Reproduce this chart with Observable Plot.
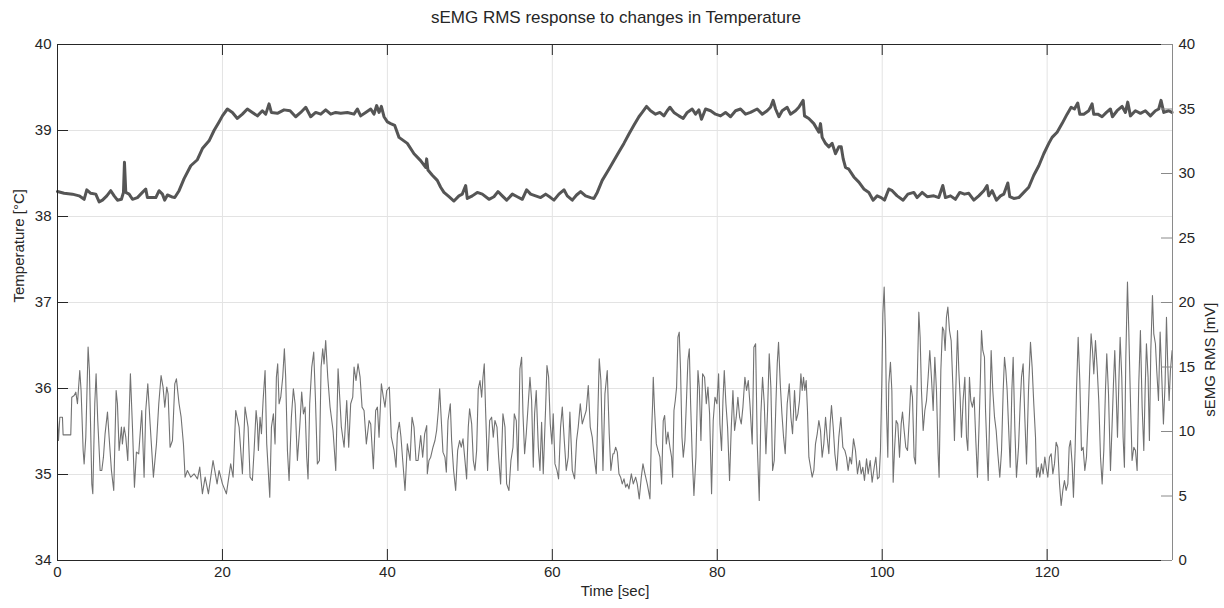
<!DOCTYPE html>
<html><head><meta charset="utf-8">
<script src="https://cdn.jsdelivr.net/npm/d3@7"></script>
<script src="https://cdn.jsdelivr.net/npm/@observablehq/plot@0.6"></script>
<style>
body{margin:0;background:#fff;font-family:"Liberation Sans",Arial,sans-serif;}
#title{height:26px;padding-top:5px;line-height:26px;font-size:17px;text-align:center;padding-left:8px;color:#262626;}
</style></head><body>
<div id="title">sEMG RMS response to changes in Temperature</div>
<div id="chart"></div>
<script>
// Temperature samples [time s, °C]
const tempSamples = [[0,38.29],[0.8,38.27],[1.81,38.26],[2.62,38.24],[3.23,38.2],[3.55,38.31],[4.03,38.27],[4.64,38.26],[5.05,38.17],[5.45,38.19],[5.98,38.24],[6.46,38.3],[6.87,38.24],[7.27,38.19],[7.75,38.2],[8.0,38.28],[8.12,38.63],[8.28,38.28],[8.68,38.26],[9.09,38.2],[9.69,38.22],[10.3,38.28],[10.7,38.32],[10.9,38.22],[11.31,38.22],[11.92,38.22],[12.32,38.3],[12.72,38.26],[13.0,38.19],[13.33,38.25],[13.81,38.23],[14.22,38.22],[14.74,38.3],[15.35,38.44],[16.16,38.59],[16.96,38.66],[17.57,38.79],[18.38,38.88],[18.98,39.0],[19.59,39.1],[20.0,39.17],[20.6,39.25],[21.21,39.21],[21.81,39.14],[22.42,39.19],[23.02,39.25],[23.63,39.21],[24.24,39.17],[24.84,39.23],[25.25,39.19],[25.65,39.31],[25.93,39.21],[26.66,39.2],[27.47,39.24],[28.2,39.23],[28.88,39.16],[29.49,39.21],[30.1,39.27],[30.7,39.16],[31.31,39.21],[31.92,39.19],[32.52,39.24],[33.13,39.19],[33.73,39.21],[34.34,39.2],[35.15,39.21],[35.95,39.19],[36.36,39.25],[36.76,39.17],[37.37,39.21],[37.98,39.25],[38.38,39.19],[38.7,39.29],[38.99,39.21],[39.27,39.28],[39.59,39.16],[40.0,39.1],[40.4,39.08],[40.88,39.06],[41.41,38.92],[42.42,38.85],[43.23,38.73],[44.03,38.65],[44.64,38.57],[44.76,38.67],[44.92,38.54],[45.45,38.48],[46.05,38.42],[46.46,38.34],[46.86,38.28],[47.47,38.23],[48.07,38.18],[48.68,38.24],[49.08,38.26],[49.49,38.36],[49.69,38.21],[50.3,38.24],[50.9,38.28],[51.51,38.26],[52.32,38.2],[52.92,38.23],[53.41,38.29],[53.93,38.24],[54.46,38.19],[55.15,38.26],[55.75,38.23],[56.36,38.2],[56.88,38.31],[57.37,38.26],[57.97,38.24],[58.58,38.22],[59.19,38.26],[59.79,38.22],[60.2,38.19],[60.8,38.26],[61.41,38.31],[61.81,38.24],[62.42,38.19],[62.94,38.25],[63.43,38.29],[64.03,38.24],[64.64,38.22],[65.04,38.21],[65.45,38.28],[66.05,38.42],[66.86,38.55],[67.47,38.65],[68.07,38.75],[68.68,38.85],[69.29,38.96],[69.89,39.06],[70.5,39.16],[70.9,39.21],[71.43,39.28],[71.91,39.23],[72.52,39.19],[73.04,39.21],[73.53,39.17],[73.93,39.23],[74.26,39.27],[74.74,39.21],[75.35,39.17],[75.87,39.14],[76.36,39.21],[76.96,39.25],[77.37,39.19],[77.77,39.24],[78.09,39.13],[78.58,39.25],[79.19,39.23],[79.79,39.19],[80.4,39.17],[81.0,39.21],[81.61,39.16],[82.22,39.23],[82.82,39.25],[83.43,39.19],[84.03,39.21],[84.84,39.25],[85.45,39.19],[86.05,39.23],[86.46,39.27],[86.78,39.35],[87.07,39.25],[87.47,39.16],[87.87,39.23],[88.48,39.27],[88.88,39.19],[89.49,39.23],[89.89,39.27],[90.42,39.35],[90.58,39.17],[91.1,39.14],[91.71,39.08],[92.32,38.98],[92.52,39.08],[92.72,38.92],[93.13,38.85],[93.53,38.81],[93.93,38.85],[94.34,38.73],[94.74,38.81],[95.03,38.81],[95.27,38.67],[95.55,38.57],[95.95,38.55],[96.56,38.46],[97.17,38.4],[97.77,38.32],[98.38,38.28],[98.9,38.19],[99.39,38.24],[99.87,38.22],[100.28,38.19],[100.8,38.32],[101.21,38.3],[101.81,38.24],[102.54,38.19],[103.11,38.26],[103.83,38.28],[104.24,38.22],[104.84,38.28],[105.45,38.23],[106.26,38.24],[106.86,38.22],[107.35,38.36],[107.67,38.22],[108.28,38.24],[108.88,38.2],[109.41,38.28],[109.97,38.26],[110.5,38.27],[111.11,38.19],[111.71,38.24],[112.32,38.3],[112.72,38.36],[112.92,38.24],[113.33,38.3],[113.85,38.19],[114.34,38.24],[114.74,38.26],[115.23,38.39],[115.47,38.23],[115.95,38.21],[116.56,38.22],[117.17,38.28],[117.77,38.34],[118.38,38.48],[118.99,38.59],[119.59,38.73],[120.2,38.85],[120.6,38.92],[121.21,38.98],[121.81,39.08],[122.42,39.19],[122.91,39.27],[123.31,39.25],[123.71,39.32],[123.96,39.19],[124.44,39.19],[125.05,39.23],[125.45,39.31],[125.65,39.19],[126.14,39.19],[126.66,39.16],[127.19,39.21],[127.67,39.25],[127.92,39.16],[128.48,39.23],[129.09,39.28],[129.49,39.21],[129.77,39.33],[130.1,39.17],[130.7,39.23],[131.31,39.2],[131.91,39.23],[132.52,39.17],[133.13,39.23],[133.53,39.25],[133.81,39.35],[134.14,39.21],[134.74,39.23],[135.14,39.21]];

// sEMG RMS samples [time s, mV]
const emgSamples = [[0,10.85],[0.12,9.3],[0.28,11.1],[0.6,11.1],[0.68,9.74],[1.61,9.74],[1.73,12.66],[2.02,12.79],[2.22,13.05],[2.42,12.15],[2.7,14.73],[2.86,13.18],[3.11,8.53],[3.23,7.49],[3.43,9.56],[3.71,16.54],[3.87,14.73],[4.16,5.94],[4.28,5.17],[4.52,12.15],[4.68,14.47],[4.88,10.85],[5.17,6.98],[5.37,6.98],[5.57,8.01],[5.77,9.82],[6.06,11.5],[6.26,9.56],[6.54,6.98],[6.82,5.43],[7.11,13.18],[7.27,12.15],[7.47,8.53],[7.75,10.34],[7.87,9.04],[8.08,10.34],[8.28,9.56],[8.52,7.75],[8.84,14.47],[9.09,10.34],[9.33,5.68],[9.57,8.4],[9.85,8.27],[10.22,11.63],[10.5,6.46],[10.7,11.63],[10.95,13.69],[11.23,10.6],[11.63,6.46],[12.0,9.04],[12.28,12.15],[12.56,14.34],[12.8,13.44],[13.01,11.89],[13.25,13.44],[13.41,12.92],[13.65,8.78],[13.94,9.3],[14.22,13.69],[14.42,14.08],[14.74,12.15],[14.99,11.11],[15.27,9.04],[15.47,6.46],[15.75,6.98],[16.16,6.46],[16.56,6.72],[16.97,6.33],[17.25,7.24],[17.57,5.17],[17.9,6.46],[18.3,5.17],[18.86,7.75],[19.35,5.94],[19.59,6.98],[20.0,5.94],[20.48,5.17],[21.0,7.49],[21.29,6.46],[21.61,11.63],[22.02,10.34],[22.42,6.72],[22.74,11.89],
[23.11,10.34],[23.35,6.46],[23.63,6.2],[23.84,8.53],[24.08,11.63],[24.24,10.59],[24.36,8.53],[24.56,11.11],[24.73,9.82],[24.93,12.4],[25.17,14.73],[25.37,9.04],[25.74,4.91],[25.94,10.34],[26.18,11.37],[26.38,9.04],[26.54,14.21],[26.7,15.24],[26.87,12.15],[27.07,12.66],[27.31,14.21],[27.51,16.41],[27.67,14.21],[27.88,8.53],[28.08,6.2],[28.36,11.11],[28.6,13.31],[28.81,12.15],[29.09,7.75],[29.37,10.34],[29.61,13.05],[29.82,11.37],[30.02,11.89],[30.22,8.01],[30.38,6.33],[30.58,12.15],[30.83,14.99],[31.07,16.15],[31.27,12.66],[31.51,7.49],[31.76,7.75],[31.96,14.99],[32.16,16.41],[32.32,15.24],[32.52,17.05],[32.77,14.21],[33.05,11.89],[33.41,10.08],[33.74,6.98],[34.02,14.86],[34.22,12.66],[34.42,10.34],[34.75,8.78],[35.07,12.4],[35.31,8.78],[35.55,12.15],[35.8,12.66],[35.96,14.99],[36.2,13.95],[36.44,15.24],[36.69,14.21],[36.93,11.89],[37.17,11.63],[37.45,9.04],[37.78,10.85],[37.98,10.59],[38.3,7.11],[38.58,11.63],[38.79,11.89],[38.99,9.56],[39.27,13.69],[39.51,12.66],[39.71,11.89],[39.92,13.18],[40.24,13.44],[40.48,9.56],[40.81,8.53],[41.05,7.24],[41.21,9.82],[41.45,10.72],[41.65,9.56],[41.86,7.75],[42.14,5.43],[42.42,9.04],[42.75,7.75],[42.99,11.11],[43.23,10.34],[43.47,7.75],[43.72,7.75],[44.04,9.69],[44.28,8.01],[44.52,9.82],[44.77,10.46],
[44.84,6.72],[45.04,7.75],[45.25,8.01],[45.53,8.78],[45.77,9.3],[45.97,10.08],[46.18,11.63],[46.34,13.31],[46.54,10.85],[46.74,8.4],[46.98,8.01],[47.15,6.85],[47.35,10.85],[47.63,12.15],[47.79,9.3],[48.03,6.98],[48.28,5.43],[48.52,8.53],[48.76,9.3],[48.96,8.78],[49.17,9.43],[49.37,8.01],[49.61,6.33],[49.81,10.34],[49.97,11.76],[50.22,10.59],[50.42,7.75],[50.62,6.98],[50.82,8.53],[51.02,13.31],[51.23,13.95],[51.43,12.66],[51.59,14.21],[51.75,15.24],[51.91,11.63],[52.15,6.98],[52.4,10.85],[52.64,11.11],[52.84,9.56],[53.04,10.85],[53.29,10.34],[53.49,8.01],[53.73,5.94],[54.01,11.37],[54.26,10.34],[54.46,5.94],[54.74,5.43],[54.98,7.75],[55.23,8.78],[55.39,11.37],[55.63,10.85],[55.83,6.98],[56.07,14.86],[56.28,15.76],[56.44,11.37],[56.64,8.27],[56.84,9.82],[57.08,12.15],[57.29,14.21],[57.49,12.4],[57.69,7.24],[57.85,11.37],[58.05,13.18],[58.3,8.78],[58.5,6.98],[58.7,10.72],[58.9,6.72],[59.19,11.89],[59.35,15.12],[59.55,14.21],[59.75,10.59],[59.95,9.04],[60.11,11.37],[60.32,7.49],[60.56,6.98],[60.76,6.33],[61.0,10.34],[61.21,11.89],[61.45,9.3],[61.69,6.98],[61.93,8.01],[62.13,11.5],[62.42,6.98],[62.7,6.33],[62.94,9.3],[63.14,10.34],[63.39,12.15],[63.63,10.59],[63.87,11.11],[64.11,11.63],[64.36,13.57],[64.6,10.34],[64.84,9.56],[65.08,8.01],[65.33,6.72],[65.53,11.63],[65.69,15.63],[65.89,13.95],[66.14,6.98],[66.38,12.92],[66.66,14.73],[66.9,9.82],[67.1,6.98],[67.35,8.27],
[67.47,8.27],[67.68,8.78],[67.88,8.4],[68.08,6.72],[68.28,6.46],[68.48,5.94],[68.69,6.33],[68.89,5.68],[69.09,5.94],[69.29,5.55],[69.58,6.72],[69.82,5.94],[70.1,6.46],[70.3,5.94],[70.54,4.78],[70.79,6.46],[70.99,7.49],[71.23,6.72],[71.51,5.94],[71.84,4.78],[72.0,9.3],[72.16,12.15],[72.24,14.21],[72.4,11.63],[72.61,9.04],[72.81,8.53],[73.05,8.01],[73.25,5.94],[73.45,10.85],[73.62,11.24],[73.82,9.04],[74.02,9.95],[74.26,8.78],[74.46,8.01],[74.59,6.46],[74.75,11.63],[74.91,12.4],[75.07,13.44],[75.23,17.31],[75.39,17.7],[75.55,14.73],[75.72,9.56],[75.88,8.01],[76.08,9.3],[76.28,12.66],[76.44,15.5],[76.61,16.41],[76.77,12.15],[76.97,8.01],[77.17,5.04],[77.41,8.01],[77.66,14.73],[77.82,13.44],[78.02,9.3],[78.22,14.47],[78.46,14.21],[78.67,12.15],[78.87,13.44],[79.07,11.37],[79.31,5.17],[79.51,10.85],[79.72,12.66],[79.96,12.15],[80.16,14.47],[80.32,10.59],[80.52,8.53],[80.69,12.4],[80.85,14.73],[81.05,12.15],[81.25,10.34],[81.49,6.2],[81.7,10.34],[81.9,13.18],[82.1,10.08],[82.3,11.11],[82.5,12.66],[82.71,11.11],[82.91,10.59],[83.11,11.89],[83.35,14.21],[83.55,13.18],[83.76,13.95],[83.96,12.15],[84.24,9.04],[84.44,16.54],[84.65,16.8],[84.85,9.04],[85.09,4.65],[85.29,11.37],[85.49,14.21],[85.7,12.15],[85.9,8.27],[86.1,11.63],[86.3,16.02],[86.5,13.44],[86.71,6.98],[86.91,7.75],[87.11,12.15],[87.27,15.24],[87.43,16.92],[87.64,13.69],[87.84,11.37],[88.04,9.56],[88.24,8.27],[88.48,12.15],[88.73,13.69],[88.93,11.11],[89.13,9.82],[89.37,13.18],[89.57,10.85],[89.78,11.37],
[89.97,12.4],[90.14,14.47],[90.3,13.18],[90.46,14.21],[90.62,13.18],[90.78,13.95],[90.94,11.63],[91.11,8.01],[91.31,7.23],[91.51,6.46],[91.71,6.98],[91.91,9.04],[92.12,9.82],[92.32,10.85],[92.52,10.08],[92.72,8.01],[92.92,9.04],[93.13,11.11],[93.33,9.56],[93.53,8.27],[93.69,10.59],[93.85,12.01],[94.06,10.33],[94.26,8.27],[94.5,6.98],[94.74,9.56],[94.99,11.11],[95.23,8.78],[95.47,8.53],[95.67,8.01],[95.87,6.98],[96.08,8.01],[96.28,7.49],[96.52,9.43],[96.76,8.53],[97.0,6.72],[97.25,7.75],[97.45,6.72],[97.65,7.23],[97.85,6.2],[98.1,7.88],[98.3,6.72],[98.54,7.75],[98.78,6.07],[99.03,7.23],[99.23,8.01],[99.43,6.33],[99.63,6.46],[99.79,8.53],[99.95,13.69],[100.08,19.12],[100.24,21.19],[100.4,17.31],[100.52,11.63],[100.68,8.01],[100.8,13.69],[101.0,15.37],[101.17,13.18],[101.33,6.07],[101.49,8.53],[101.69,10.85],[101.89,10.59],[102.1,8.01],[102.3,10.59],[102.46,11.5],[102.66,10.08],[102.86,8.78],[103.07,8.53],[103.27,10.85],[103.47,13.56],[103.67,12.66],[103.87,8.01],[104.04,7.49],[104.24,13.69],[104.44,19.25],[104.6,17.31],[104.76,13.18],[104.97,10.08],[105.17,11.63],[105.37,12.4],[105.57,14.21],[105.77,16.28],[105.97,14.21],[106.18,11.63],[106.38,15.76],[106.58,13.18],[106.78,8.27],[106.9,6.46],[107.11,14.73],[107.31,18.09],[107.47,17.83],[107.63,16.28],[107.79,18.86],[107.96,19.64],[108.16,17.83],[108.36,17.05],[108.56,13.69],[108.76,9.3],[108.92,13.18],[109.13,17.83],[109.29,14.73],[109.45,12.66],[109.61,9.56],[109.81,12.4],[110.02,14.21],[110.22,9.56],[110.38,8.53],[110.58,14.21],[110.74,12.4],[110.94,11.89],[111.15,12.66],[111.35,9.3],[111.55,6.46],[111.75,10.59],[111.91,14.21],[112.04,17.83],[112.2,16.28],[112.4,15.76],
[112.53,11.63],[112.73,8.01],[112.85,6.2],[113.01,10.59],[113.21,16.28],[113.41,13.18],[113.62,11.11],[113.82,10.08],[114.02,8.27],[114.26,6.46],[114.47,8.53],[114.67,13.18],[114.83,15.76],[114.99,14.73],[115.15,13.18],[115.31,10.59],[115.52,7.23],[115.72,13.18],[115.88,15.76],[116.08,10.33],[116.28,6.46],[116.53,8.78],[116.73,12.14],[116.89,14.21],[117.09,15.24],[117.29,11.11],[117.5,7.49],[117.74,13.18],[117.98,16.92],[118.18,14.99],[118.38,12.14],[118.59,9.56],[118.71,6.46],[118.91,7.23],[119.11,6.46],[119.31,7.49],[119.52,6.72],[119.72,8.01],[119.88,7.23],[120.08,6.46],[120.28,8.01],[120.49,8.27],[120.69,6.72],[120.89,7.49],[121.09,9.17],[121.29,8.78],[121.5,5.94],[121.7,4.26],[121.9,5.43],[122.1,6.2],[122.3,5.43],[122.51,5.94],[122.67,8.78],[122.83,9.3],[123.03,7.49],[123.19,4.91],[123.39,8.53],[123.56,13.18],[123.76,17.31],[123.96,13.95],[124.16,8.53],[124.36,8.78],[124.57,6.98],[124.77,8.01],[124.97,11.11],[125.17,14.99],[125.33,17.57],[125.5,16.28],[125.66,14.47],[125.86,17.05],[126.06,14.99],[126.26,12.4],[126.47,8.01],[126.67,5.94],[126.87,8.53],[127.07,13.18],[127.23,16.02],[127.44,12.92],[127.68,6.98],[127.88,10.59],[128.04,13.69],[128.2,16.28],[128.36,13.18],[128.53,9.56],[128.69,13.69],[128.85,17.31],[129.05,14.21],[129.21,9.56],[129.37,7.23],[129.54,15.76],[129.74,21.58],[129.9,17.83],[130.1,12.4],[130.3,7.75],[130.51,8.78],[130.71,8.53],[130.91,6.98],[131.11,13.69],[131.31,17.83],[131.52,11.89],[131.72,8.53],[131.88,13.18],[132.04,16.8],[132.24,14.21],[132.4,9.3],[132.57,16.28],[132.77,20.54],[132.93,17.57],[133.13,16.8],[133.29,14.73],[133.5,12.4],[133.7,17.7],[133.9,14.21],[134.1,10.59],[134.3,13.69],[134.47,18.86],[134.63,14.99],[134.79,12.4],[134.95,14.73],[135.15,16.28]];

const xTicks = [0, 20, 40, 60, 80, 100, 120];
const tempTicks = [34, 35, 36, 37, 38, 39, 40];
const emgTicks = [0, 5, 10, 15, 20, 25, 30, 35, 40];
const xMax = 135.2;
const tempDomain = [34, 40];
const emgDomain = [0, 40];

const toLeft = v => tempDomain[0] + (v - emgDomain[0]) * (tempDomain[1] - tempDomain[0]) / (emgDomain[1] - emgDomain[0]);
const fromLeft = t => emgDomain[0] + (t - tempDomain[0]) * (emgDomain[1] - emgDomain[0]) / (tempDomain[1] - tempDomain[0]);

const temp = tempSamples.map(([t, v]) => ({t, v}));
const emg = emgSamples.map(([t, v]) => ({t, v: toLeft(v)}));

const W = 1224, H = 577, mt = 13, mb = 48, ml = 57, mr = 52;
const iw = W - ml - mr, ih = H - mt - mb;
const dark = "#262626", grid = "#e3e3e3", rightCol = "#8a8a8a";

const chart = Plot.plot({
  width: W, height: H,
  marginTop: mt, marginBottom: mb, marginLeft: ml, marginRight: mr,
  x: {domain: [0, xMax]},
  y: {domain: tempDomain},
  style: {fontFamily: '"Liberation Sans", Arial, sans-serif', fontSize: "15px", color: dark, background: "#fff"},
  marks: [
    Plot.ruleX(xTicks.filter(d => d > 0), {stroke: grid}),
    Plot.ruleY(tempTicks.filter(d => d > tempDomain[0] && d < tempDomain[1]), {stroke: grid}),
    Plot.line(emg, {x: "t", y: "v", stroke: "#727272", strokeWidth: 1.1}),
    Plot.line(temp, {x: "t", y: "v", stroke: "#555555", strokeWidth: 3, strokeLinejoin: "round"}),
    Plot.ruleY([tempDomain[0]], {stroke: dark}),
    Plot.ruleY([tempDomain[1]], {stroke: dark}),
    Plot.ruleX([0], {stroke: dark}),
    Plot.ruleX([xMax], {stroke: rightCol}),
    Plot.ruleX(xTicks, {insetTop: ih - 11, stroke: dark}),
    Plot.ruleX(xTicks, {insetBottom: ih - 11, stroke: dark}),
    Plot.ruleY(tempTicks, {insetRight: iw - 11, stroke: dark}),
    Plot.ruleY(emgTicks.map(toLeft), {insetLeft: iw - 11, stroke: rightCol}),
    Plot.axisX(xTicks, {anchor: "bottom", tickSize: 0, tickPadding: 6, fontSize: 15, label: null, tickFormat: d => String(d)}),
    Plot.axisY(tempTicks, {anchor: "left", tickSize: 0, tickPadding: 6, fontSize: 15, label: null, tickFormat: d => String(d)}),
    Plot.axisY(emgTicks.map(toLeft), {anchor: "right", tickSize: 0, tickPadding: 6, fontSize: 15, label: null,
      tickFormat: d => String(Math.round(fromLeft(d)))}),
    Plot.text(["Time [sec]"], {frameAnchor: "bottom", dy: 35, fontSize: 15}),
    Plot.text(["Temperature [°C]"], {frameAnchor: "left", dx: -38, rotate: -90, fontSize: 15}),
    Plot.text(["sEMG RMS [mV]"], {frameAnchor: "right", dx: 38, rotate: -90, fontSize: 15})
  ]
});
document.getElementById("chart").appendChild(chart);
</script>
</body></html>
